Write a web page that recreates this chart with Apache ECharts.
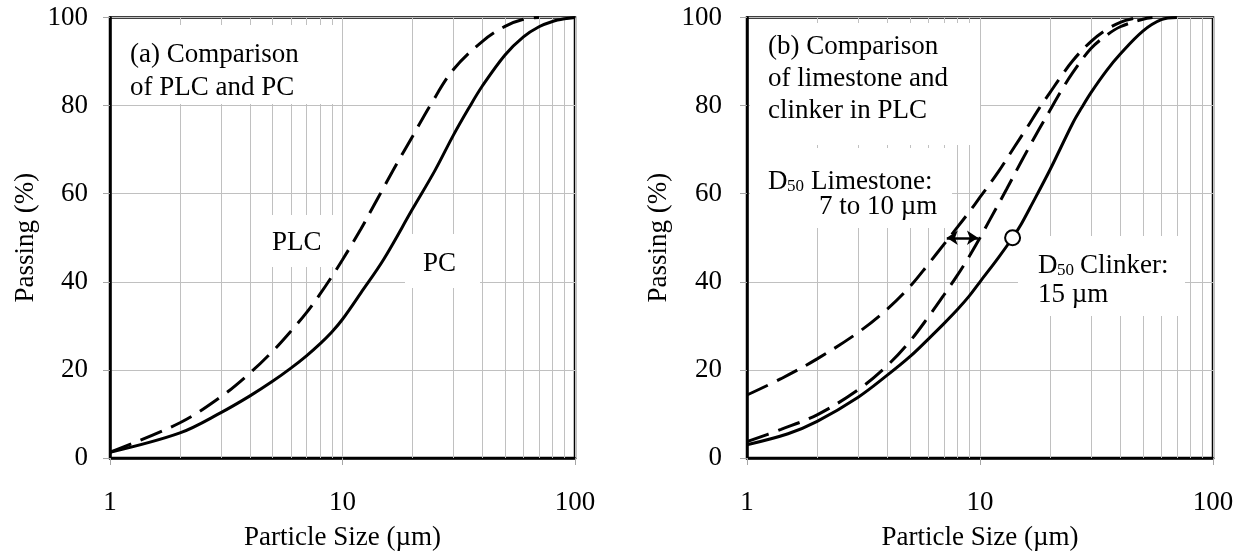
<!DOCTYPE html>
<html>
<head>
<meta charset="utf-8">
<script src="https://cdn.jsdelivr.net/npm/echarts@6/dist/echarts.min.js"></script>
<style>
  html, body { margin: 0; padding: 0; background: #fff; }
  #chart { width: 1243px; height: 558px; }
</style>
</head>
<body>
<div id="chart"></div>
<script>
// (a) PLC vs PC
const sizePC = [1, 2, 3, 4, 5, 6, 7, 8, 9, 10, 12, 15, 20, 25, 30, 35, 40, 50, 60, 70, 80, 90, 100];
const passPC = [1.3, 5.7, 10.3, 14.1, 17.4, 20.4, 23.2, 25.9, 28.6, 31.5, 37.5, 45, 56.5, 65.3, 73.3, 79.5, 84.5, 91.5, 95.6, 97.9, 99.1, 99.7, 100];
const sizePLC = [1, 2, 3, 4, 5, 6, 7, 8, 9, 10, 12, 13.6, 15, 17, 20, 24, 30, 40, 50, 60, 70];
const passPLC = [1.3, 8, 13.9, 19.3, 24.2, 28.8, 33, 37.2, 41.2, 45, 52, 57.2, 61.3, 66.5, 73, 80.3, 88.2, 94.6, 98, 99.6, 100];

// (b) limestone (two samples) and clinker in PLC
const sizeLimeFine = [1, 1.4, 2, 3, 4, 5, 6, 7, 8, 9, 10, 12, 14, 16, 18, 20, 22, 25, 30, 35, 40, 45, 50];
const passLimeFine = [14.3, 18, 22.5, 28.5, 33.8, 38.9, 44, 48.5, 52.4, 55.9, 59.2, 65, 70.5, 75.2, 79.5, 83, 86.2, 90.2, 94.6, 97.3, 98.9, 99.7, 100];
const sizeLimeCoarse = [1, 1.4, 2, 3, 4, 5, 6, 7, 8, 9, 10, 11, 13, 15, 18, 20, 22, 25, 30, 35, 40, 50, 55];
const passLimeCoarse = [3.7, 6.5, 9.8, 15.5, 21, 26.5, 32, 37, 41.5, 45.8, 50, 54, 61, 67.2, 74.8, 79, 82.8, 87.5, 93, 96, 97.9, 99.6, 100];
const sizeClinker = [1, 1.5, 2, 3, 4, 5, 6, 7, 8, 9, 10, 12, 13.8, 15, 16.4, 20, 25, 27.3, 30, 35, 40, 50, 60, 70];
const passClinker = [3, 5.5, 8.3, 13.8, 18.8, 23, 27, 30.5, 33.7, 36.8, 40, 45.5, 50, 53, 56.8, 65.5, 76, 79.5, 83, 88, 91.7, 96.9, 99.5, 100];

const clinkerD50 = [13.8, 50];
const limestoneD50 = [7.2, 9.8];   // arrow from .. to, at 50 %

const minorGrid = [2, 3, 4, 5, 6, 7, 8, 9, 20, 30, 40, 50, 60, 70, 80, 90];

const FONT = '"Liberation Serif", "Times New Roman", serif';
const GRIDC = '#c0c0c0';
const pairs = (xs, ys) => xs.map((x, i) => [x, ys[i]]);

let myChart = echarts.init(document.getElementById('chart'));

function xAxisFor(gi) {
  return {
    type: 'log', logBase: 10, min: 1, max: 100, gridIndex: gi,
    name: 'Particle Size (µm)', nameLocation: 'middle', nameGap: 66,
    nameTextStyle: { fontFamily: FONT, fontSize: 27, color: '#000' },
    axisLine: { show: true, onZero: false, lineStyle: { color: '#000', width: 2.5 } },
    axisTick: { show: true, length: 7, lineStyle: { color: '#a6a6a6', width: 1 } },
    axisLabel: { margin: 31, fontFamily: FONT, fontSize: 27, color: '#000' },
    splitLine: { show: true, lineStyle: { color: GRIDC, width: 1 } },
    minorTick: { show: false },
    minorSplitLine: { show: false }
  };
}

function yAxisFor(gi, gap, margin) {
  return {
    type: 'value', min: 0, max: 100, interval: 20, gridIndex: gi,
    name: 'Passing (%)', nameLocation: 'middle', nameGap: gap, nameRotate: 90,
    nameTextStyle: { fontFamily: FONT, fontSize: 27, color: '#000' },
    axisLine: { show: true, lineStyle: { color: '#000', width: 2.5 } },
    axisTick: { show: true, length: 7, lineStyle: { color: '#a6a6a6', width: 1 } },
    axisLabel: { margin: margin, fontFamily: FONT, fontSize: 27, color: '#000' },
    splitLine: { show: true, lineStyle: { color: GRIDC, width: 1 } }
  };
}

function minorLines() {
  return {
    silent: true, symbol: 'none', z: 1, animation: false,
    label: { show: false }, emphasis: { disabled: true },
    lineStyle: { color: GRIDC, width: 1, type: 'solid' },
    data: minorGrid.map(v => ({ xAxis: v }))
  };
}

function curve(gi, data, dashed, extra) {
  return Object.assign({
    type: 'line', xAxisIndex: gi, yAxisIndex: gi, data: data,
    symbol: 'none', smooth: 0.35, z: 5, animation: false,
    lineStyle: { color: '#000', width: 3, type: dashed ? [23, 10] : 'solid' }
  }, extra || {});
}

// white text boxes like the excel ones
function box(x, y, w, h) {
  return { type: 'rect', z: 3, silent: true, shape: { x: x, y: y, width: w, height: h }, style: { fill: '#fff' } };
}
function txt(x, y, text, size) {
  return {
    type: 'text', z: 4, silent: true, x: x, y: y,
    style: { text: text, fontFamily: FONT, fontSize: size || 27, fill: '#000', textAlign: 'left', textVerticalAlign: 'middle' }
  };
}

var option = {
  backgroundColor: '#fff',
  grid: [
    { left: 110, top: 17.5, width: 465, height: 440.5, show: true, borderColor: '#000', borderWidth: 2.5, backgroundColor: 'transparent' },
    { left: 747, top: 17.5, width: 466, height: 440.5, show: true, borderColor: '#000', borderWidth: 2.5, backgroundColor: 'transparent' }
  ],
  xAxis: [xAxisFor(0), xAxisFor(1)],
  yAxis: [yAxisFor(0, 71, 22), yAxisFor(1, 75, 25)],
  graphic: {
    elements: [
      box(113, 25, 227, 79),
      txt(130, 55, '(a) Comparison'),
      txt(130, 88, 'of PLC and PC'),
      box(252, 215, 88, 52),
      txt(272, 243, 'PLC'),
      box(405, 234, 75, 54),
      txt(423, 264, 'PC'),

      box(750, 23, 230, 122),
      txt(768, 47, '(b) Comparison'),
      txt(768, 79, 'of limestone and'),
      txt(768, 111, 'clinker in PLC'),
      box(750, 148, 202, 80),
      txt(768, 182, 'D'),
      txt(787, 187, '50', 17),
      txt(811, 182, 'Limestone:'),
      txt(819, 207, '7 to 10 µm'),
      box(1018, 236, 167, 80),
      txt(1038, 266, 'D'),
      txt(1057, 271, '50', 17),
      txt(1080, 266, 'Clinker:'),
      txt(1038, 295, '15 µm')
    ]
  },
  series: [
    curve(0, pairs(sizePC, passPC), false, { markLine: minorLines() }),
    curve(0, pairs(sizePLC, passPLC), true),
    curve(1, pairs(sizeClinker, passClinker), false, { markLine: minorLines() }),
    curve(1, pairs(sizeLimeFine, passLimeFine), true),
    curve(1, pairs(sizeLimeCoarse, passLimeCoarse), true),
    {
      type: 'scatter', xAxisIndex: 1, yAxisIndex: 1, data: [clinkerD50],
      symbol: 'circle', symbolSize: 15, z: 6, animation: false,
      itemStyle: { color: '#fff', opacity: 1, borderColor: '#000', borderWidth: 2 },
      markLine: {
        silent: true, z: 6, animation: false,
        symbol: ['arrow', 'arrow'], symbolSize: [11, 11],
        label: { show: false }, emphasis: { disabled: true },
        lineStyle: { color: '#000', width: 2.5, type: 'solid' },
        data: [[{ coord: [limestoneD50[0], 50] }, { coord: [limestoneD50[1], 50] }]]
      }
    }
  ]
};

myChart.setOption(option);
</script>
</body>
</html>
